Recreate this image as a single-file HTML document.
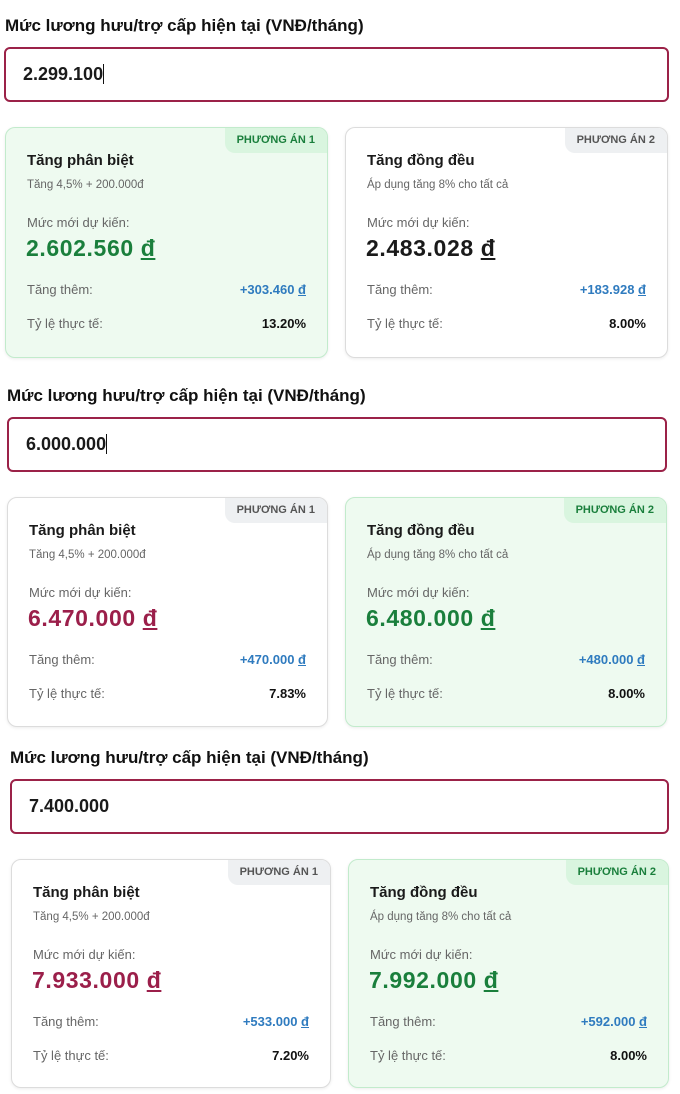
<!DOCTYPE html>
<html><head><meta charset="utf-8"><style>
*{box-sizing:border-box;margin:0;padding:0}
body{width:680px;height:1094px;background:#fff;font-family:"Liberation Sans","DejaVu Sans",sans-serif;color:#1a1a1a;position:relative;overflow:hidden}
.t{position:absolute;font-size:17px;font-weight:bold;color:#111}
.in{position:absolute;border:2px solid #9b2248;border-radius:6px;height:55px;font-size:18px;font-weight:bold;padding-left:17px;line-height:51px}
.cur{display:inline-block;width:1px;height:20px;background:#111;vertical-align:-4px}
.c{position:absolute;border:1.5px solid #dcdcdc;border-radius:10px;background:#fff;box-shadow:0 1px 3px rgba(0,0,0,.08);overflow:hidden}
.c.g{background:#eefaf0;border-color:#c2ebcc}
.b{position:absolute;right:0;top:0;height:25px;padding:0 12px;font-size:11px;font-weight:bold;line-height:25px;background:#eef0f2;color:#555;border-bottom-left-radius:10px}
.b.on{background:#d9f5df;color:#1a7f3c}
.h{position:absolute;left:21px;top:24px;font-size:15px;font-weight:bold}
.s{position:absolute;left:21px;top:51px;font-size:11.5px;color:#666}
.l{position:absolute;left:21px;top:87px;font-size:13px;color:#666}
.v{position:absolute;left:20px;top:107px;font-size:23px;font-weight:bold;letter-spacing:0.6px}
.v.gr{color:#1a7f3c}.v.mr{color:#9b1f4a}.v.bk{color:#1a1a1a}
.r{position:absolute;left:21px;right:21px;font-size:13px;color:#666}
.r span{position:absolute;right:0;font-weight:bold}
.r1{top:154px}.r1 span{color:#2f7bbf}
.r2{top:188px}.r2 span{color:#111}
u{text-decoration:underline}
</style></head><body>

<div class="t" style="left:5px;top:16px">Mức lương hưu/trợ cấp hiện tại (VNĐ/tháng)</div>
<div class="in" style="left:4px;top:47px;width:665px">2.299.100<span class="cur"></span></div>
<div class="c g" style="left:5px;top:127px;width:323px;height:231px"><div class="b on">PHƯƠNG ÁN 1</div><div class="h">Tăng phân biệt</div><div class="s">Tăng 4,5% + 200.000đ</div><div class="l">Mức mới dự kiến:</div><div class="v gr">2.602.560 <u>đ</u></div><div class="r r1">Tăng thêm:<span>+303.460 <u>đ</u></span></div><div class="r r2">Tỷ lệ thực tế:<span>13.20%</span></div></div>
<div class="c" style="left:345px;top:127px;width:323px;height:231px"><div class="b">PHƯƠNG ÁN 2</div><div class="h">Tăng đồng đều</div><div class="s">Áp dụng tăng 8% cho tất cả</div><div class="l">Mức mới dự kiến:</div><div class="v bk">2.483.028 <u>đ</u></div><div class="r r1">Tăng thêm:<span>+183.928 <u>đ</u></span></div><div class="r r2">Tỷ lệ thực tế:<span>8.00%</span></div></div>

<div class="t" style="left:7px;top:386px">Mức lương hưu/trợ cấp hiện tại (VNĐ/tháng)</div>
<div class="in" style="left:7px;top:417px;width:660px">6.000.000<span class="cur"></span></div>
<div class="c" style="left:7px;top:497px;width:321px;height:230px"><div class="b">PHƯƠNG ÁN 1</div><div class="h">Tăng phân biệt</div><div class="s">Tăng 4,5% + 200.000đ</div><div class="l">Mức mới dự kiến:</div><div class="v mr">6.470.000 <u>đ</u></div><div class="r r1">Tăng thêm:<span>+470.000 <u>đ</u></span></div><div class="r r2">Tỷ lệ thực tế:<span>7.83%</span></div></div>
<div class="c g" style="left:345px;top:497px;width:322px;height:230px"><div class="b on">PHƯƠNG ÁN 2</div><div class="h">Tăng đồng đều</div><div class="s">Áp dụng tăng 8% cho tất cả</div><div class="l">Mức mới dự kiến:</div><div class="v gr">6.480.000 <u>đ</u></div><div class="r r1">Tăng thêm:<span>+480.000 <u>đ</u></span></div><div class="r r2">Tỷ lệ thực tế:<span>8.00%</span></div></div>

<div class="t" style="left:10px;top:748px">Mức lương hưu/trợ cấp hiện tại (VNĐ/tháng)</div>
<div class="in" style="left:10px;top:779px;width:659px">7.400.000</div>
<div class="c" style="left:11px;top:859px;width:320px;height:229px"><div class="b">PHƯƠNG ÁN 1</div><div class="h">Tăng phân biệt</div><div class="s">Tăng 4,5% + 200.000đ</div><div class="l">Mức mới dự kiến:</div><div class="v mr">7.933.000 <u>đ</u></div><div class="r r1">Tăng thêm:<span>+533.000 <u>đ</u></span></div><div class="r r2">Tỷ lệ thực tế:<span>7.20%</span></div></div>
<div class="c g" style="left:348px;top:859px;width:321px;height:229px"><div class="b on">PHƯƠNG ÁN 2</div><div class="h">Tăng đồng đều</div><div class="s">Áp dụng tăng 8% cho tất cả</div><div class="l">Mức mới dự kiến:</div><div class="v gr">7.992.000 <u>đ</u></div><div class="r r1">Tăng thêm:<span>+592.000 <u>đ</u></span></div><div class="r r2">Tỷ lệ thực tế:<span>8.00%</span></div></div>

</body></html>
